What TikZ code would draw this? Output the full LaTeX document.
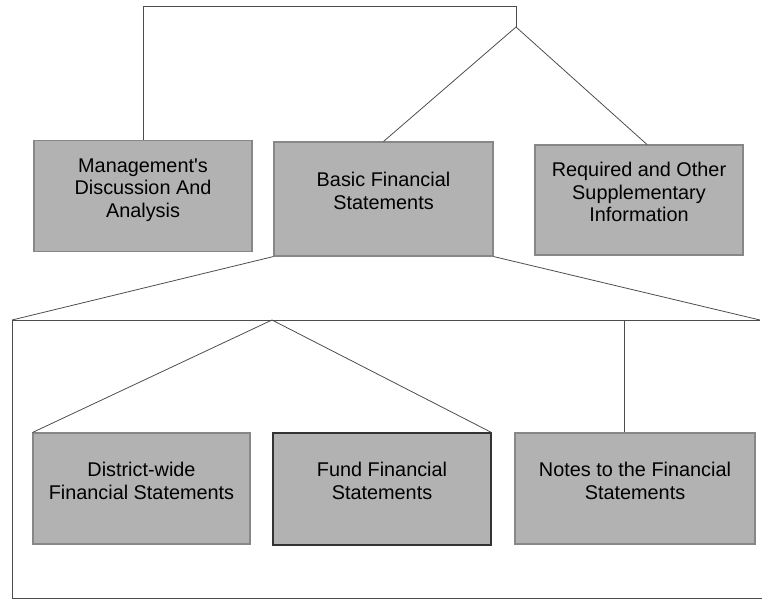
\documentclass[tikz,border=0pt]{standalone}
\usepackage{fontspec}
\setmainfont{Liberation Sans}
\usetikzlibrary{positioning}

\definecolor{boxgray}{RGB}{178,178,178}
\definecolor{edgegray}{RGB}{135,135,135}

\begin{document}
\begin{tikzpicture}[x=0.02cm, y=-0.02cm,
    fsbox/.style={draw=edgegray, fill=boxgray, line width=0.6pt, align=center,
                  inner sep=0pt, text depth=0.32cm, font=\fontsize{11.3}{12.9}\selectfont},
    link/.style={draw=black!70, line width=0.45pt}]

    \useasboundingbox (0,0) rectangle (762,600);

    % Top row of the report
    \node[fsbox, minimum width=4.36cm, minimum height=2.22cm] (mgmt) at (143,196) {Management\textquotesingle s\\Discussion And\\Analysis};
    \node[fsbox, minimum width=4.38cm, minimum height=2.28cm] (basic) at (383.5,199) {Basic Financial\\Statements};
    \node[fsbox, minimum width=4.16cm, minimum height=2.2cm] (suppl) at (639,200) {Required and Other\\Supplementary\\Information};

    % Bottom row, the parts of the basic statements
    \node[fsbox, minimum width=4.34cm, minimum height=2.22cm] (dwide) at (141.5,488.5) {District-wide\\Financial Statements};
    \node[fsbox, draw=black!80, minimum width=4.36cm, minimum height=2.24cm] (fund) at (382,489) {Fund Financial\\Statements};
    \node[fsbox, minimum width=4.8cm, minimum height=2.22cm] (notes) at (635,488.5) {Notes to the Financial\\Statements};

    % Bracket joining the top row
    \coordinate (topbend) at (516,6);
    \coordinate (topjoint) at (516,27);
    \draw[link] (mgmt.north) |- (topbend) -- (topjoint);
    \draw[link] (topjoint) -- (basic.north);
    \draw[link] (topjoint) -- ([xshift=0.16cm]suppl.north);

    % Frame opened out of the basic statements
    \coordinate (frameleft) at (12,320);
    \coordinate (frameright) at (760,320);
    \coordinate (framebottom) at (12,598);
    \coordinate (bottomend) at (762,598);
    \draw[link] (basic.south west) -- (frameleft);
    \draw[link] (basic.south east) -- (frameright);
    \draw[link] (frameright) -- (frameleft) -- (framebottom) -- (bottomend);

    % Links down to the bottom row
    \coordinate (midjoint) at (272,320);
    \coordinate (notejoint) at (624,320);
    \draw[link] (midjoint) -- (dwide.north west);
    \draw[link] (midjoint) -- (fund.north east);
    \draw[link] (notejoint) -- (notejoint |- notes.north);
\end{tikzpicture}
\end{document}
